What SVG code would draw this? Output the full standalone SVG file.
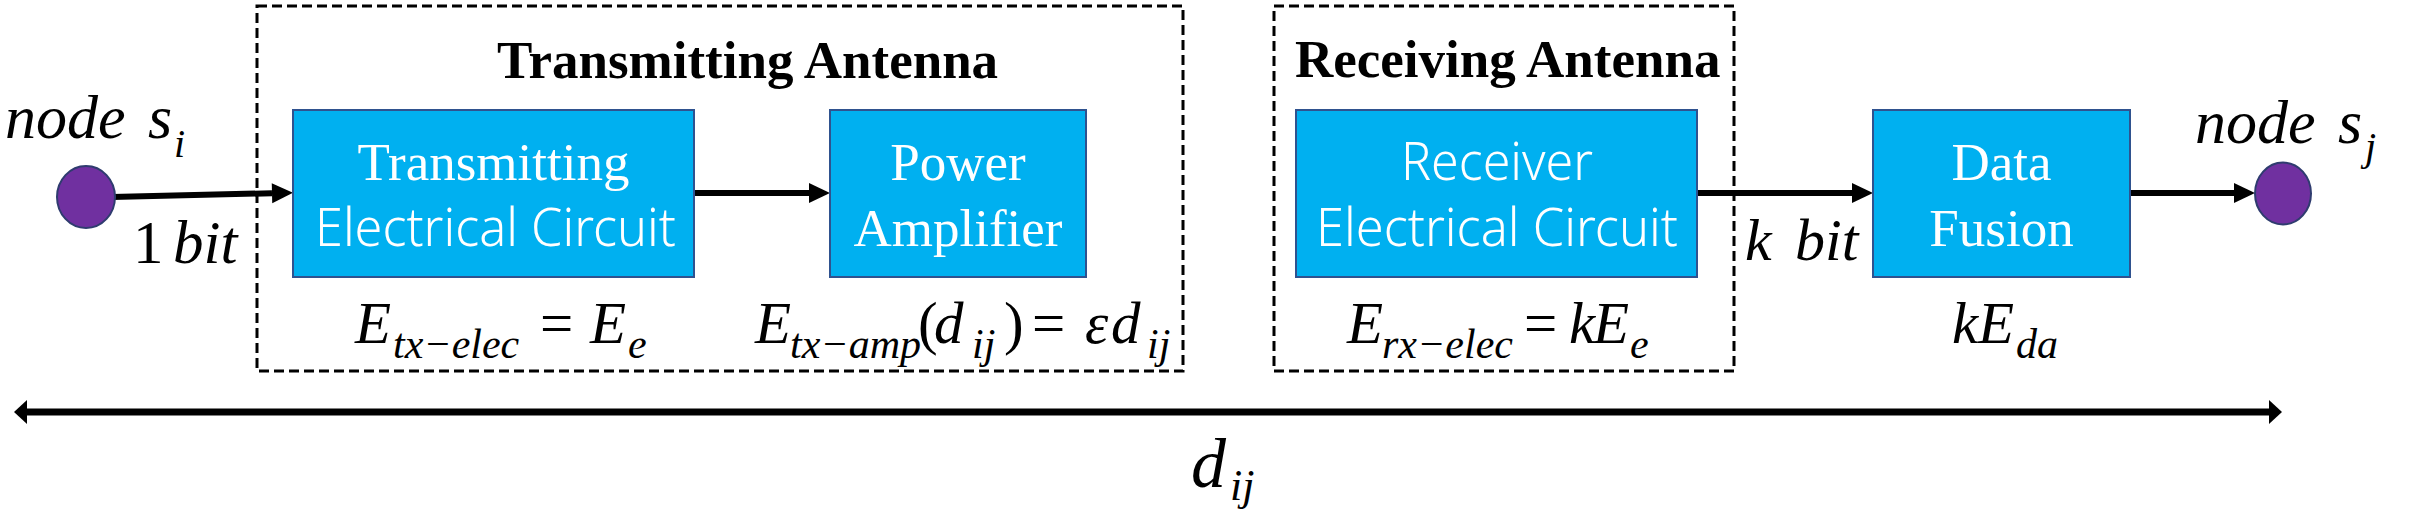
<svg xmlns="http://www.w3.org/2000/svg" width="2409" height="518" viewBox="0 0 2409 518">
<defs>
<marker id="ah" markerUnits="userSpaceOnUse" markerWidth="22" markerHeight="22" refX="0" refY="10" orient="auto" overflow="visible">
<path d="M0,0 L21,10 L0,20 z" fill="#000"/>
</marker>
<marker id="dh" markerUnits="userSpaceOnUse" markerWidth="16" markerHeight="26" refX="0" refY="12" orient="auto-start-reverse" overflow="visible">
<path d="M0,0 L13,12 L0,24 z" fill="#000"/>
</marker>
</defs>
<style>
.bg{fill:#fff}
.grp{fill:none;stroke:#000;stroke-width:3;stroke-dasharray:10 5}
.blk{fill:#00B0F0;stroke:#2F528F;stroke-width:2}
.dot{fill:#7030A0;stroke:#2F3C6F;stroke-width:2}
.conn{stroke:#000;stroke-width:6;fill:none}
.serif{font-family:"Liberation Serif","Times New Roman",serif}
.sans{font-family:"Noto Sans","Open Sans","Liberation Sans",sans-serif;font-weight:300}
.wt{fill:#fff;font-size:53px}
.title{font-weight:bold;font-size:53px;fill:#000}
.it{font-style:italic}
.m{font-size:59px;fill:#000}
.s{font-size:42px;fill:#000}
</style>
<rect class="bg" x="0" y="0" width="2409" height="518"/>

<g id="transmitting-antenna">
<rect class="grp" x="257" y="6" width="926" height="365"/>
<text class="serif title" x="497" y="78">Transmitting Antenna</text>
</g>
<g id="receiving-antenna">
<rect class="grp" x="1274" y="6" width="460" height="365"/>
<text class="serif title" x="1295" y="77">Receiving Antenna</text>
</g>

<g id="connectors">
<line class="conn" x1="112" y1="197" x2="272" y2="193.2" marker-end="url(#ah)"/>
<line class="conn" x1="694" y1="193" x2="809" y2="193" marker-end="url(#ah)"/>
<line class="conn" x1="1697" y1="193" x2="1852" y2="193" marker-end="url(#ah)"/>
<line class="conn" x1="2130" y1="193" x2="2234" y2="193" marker-end="url(#ah)"/>
<line x1="27" y1="412" x2="2269" y2="412" stroke="#000" stroke-width="7" marker-start="url(#dh)" marker-end="url(#dh)"/>
</g>

<g id="node-si">
<ellipse class="dot" cx="86" cy="197" rx="29" ry="31"/>
<text class="serif it" font-size="62" x="5" y="138">node</text>
<text class="serif it" font-size="62" x="148" y="138">s</text>
<text class="serif it" font-size="40" x="174" y="157">i</text>
</g>
<g id="label-1bit">
<text class="serif" font-size="61" x="133" y="263">1</text>
<text class="serif it" font-size="61" x="173" y="263">bit</text>
</g>

<g id="tx-circuit">
<rect class="blk" x="293" y="110" width="401" height="167"/>
<text class="serif wt" x="493.5" y="180" text-anchor="middle">Transmitting</text>
<text class="sans wt" x="315" y="246" textLength="361" lengthAdjust="spacingAndGlyphs">Electrical Circuit</text>
</g>
<g id="eq-tx-elec">
<text class="serif it m" x="355" y="343">E</text>
<text class="serif it s" x="393" y="358">tx−elec</text>
<text class="serif m" x="540" y="343">=</text>
<text class="serif it m" x="590" y="343">E</text>
<text class="serif it s" x="628" y="358">e</text>
</g>

<g id="power-amplifier">
<rect class="blk" x="830" y="110" width="256" height="167"/>
<text class="serif wt" x="958" y="180" text-anchor="middle">Power</text>
<text class="serif wt" x="958" y="246" text-anchor="middle">Amplifier</text>
</g>
<g id="eq-tx-amp">
<text class="serif it m" x="755" y="343">E</text>
<text class="serif it s" x="790" y="358">tx−amp</text>
<text class="serif m" x="918" y="343">(</text>
<text class="serif it m" x="934" y="343">d</text>
<text class="serif it s" x="972" y="358">ij</text>
<text class="serif m" x="1004" y="343">)</text>
<text class="serif m" x="1032" y="343">=</text>
<text class="serif it m" x="1085" y="343">ε</text>
<text class="serif it m" x="1111" y="343">d</text>
<text class="serif it s" x="1147" y="358">ij</text>
</g>

<g id="rx-circuit">
<rect class="blk" x="1296" y="110" width="401" height="167"/>
<text class="sans wt" x="1401" y="180" textLength="192" lengthAdjust="spacingAndGlyphs">Receiver</text>
<text class="sans wt" x="1316" y="246" textLength="362" lengthAdjust="spacingAndGlyphs">Electrical Circuit</text>
</g>
<g id="eq-rx-elec">
<text class="serif it m" x="1347" y="343">E</text>
<text class="serif it s" x="1382" y="358">rx−elec</text>
<text class="serif m" x="1524" y="343">=</text>
<text class="serif it m" x="1569" y="343">k</text>
<text class="serif it m" x="1593" y="343">E</text>
<text class="serif it s" x="1630" y="358">e</text>
</g>

<g id="label-kbit">
<text class="serif it" font-size="60" x="1745" y="260">k</text>
<text class="serif it" font-size="60" x="1795" y="260">bit</text>
</g>

<g id="data-fusion">
<rect class="blk" x="1873" y="110" width="257" height="167"/>
<text class="serif wt" x="2001.5" y="180" text-anchor="middle">Data</text>
<text class="serif wt" x="2001.5" y="246" text-anchor="middle">Fusion</text>
</g>
<g id="eq-da">
<text class="serif it m" x="1952" y="343">k</text>
<text class="serif it m" x="1978" y="343">E</text>
<text class="serif it s" x="2016" y="358">da</text>
</g>

<g id="node-sj">
<ellipse class="dot" cx="2283" cy="193.5" rx="28" ry="31"/>
<text class="serif it" font-size="62" x="2195" y="143">node</text>
<text class="serif it" font-size="62" x="2338" y="143">s</text>
<text class="serif it" font-size="40" x="2365" y="160">j</text>
</g>

<g id="distance-label">
<text class="serif it" font-size="70" x="1191" y="487">d</text>
<text class="serif it" font-size="44" x="1230" y="500">ij</text>
</g>
</svg>
